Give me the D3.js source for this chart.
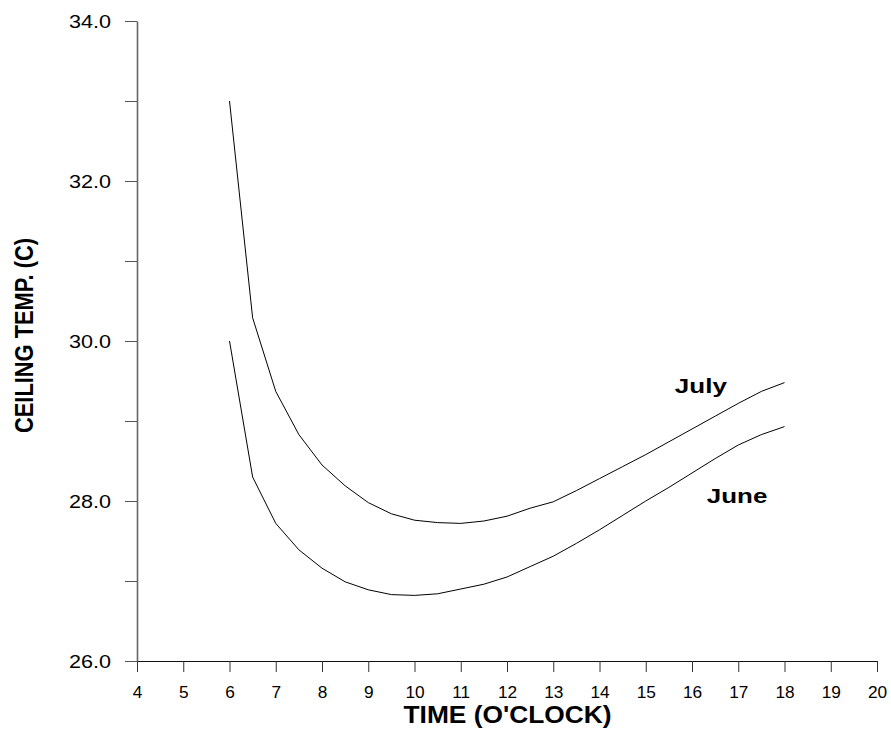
<!DOCTYPE html>
<html>
<head>
<meta charset="utf-8">
<script src="https://cdn.jsdelivr.net/npm/d3@7"></script>
<style>
    body { margin: 0; background: #fff; }
    text { font-family: "Liberation Sans", Arial, sans-serif; fill: #000; }
</style>
</head>
<body>
<div id="chart"></div>
<script>
// hours of the day (x) and ceiling temperatures (C)
const hours = [6, 6.5, 7, 7.5, 8, 8.5, 9, 9.5, 10, 10.5, 11, 11.5, 12,
    12.5, 13, 13.5, 14, 14.5, 15, 15.5, 16, 16.5, 17, 17.5, 18];
const july = [33.0, 30.29, 29.37, 28.83, 28.45, 28.19, 27.98, 27.84, 27.76, 27.73, 27.72, 27.75, 27.81,
    27.91, 27.99, 28.13, 28.28, 28.43, 28.58, 28.74, 28.90, 29.06, 29.22, 29.37, 29.48];
const june = [30.0, 28.30, 27.72, 27.39, 27.16, 26.99, 26.89, 26.83, 26.82, 26.84, 26.90, 26.96, 27.05,
    27.18, 27.31, 27.47, 27.64, 27.82, 28.00, 28.17, 28.35, 28.53, 28.70, 28.83, 28.93];
const xTicks = d3.range(4, 21);
const yTicks = d3.range(26, 35);
const seriesNames = ['July', 'June'];

const width = 891, height = 731;

const svg = d3.select('#chart').append('svg')
    .attr('width', width)
    .attr('height', height);

const x = d3.scaleLinear().domain([4, 20]).range([137, 877]);
const y = d3.scaleLinear().domain([26, 34]).range([661, 21]);

// x axis
const gx = svg.append('g')
    .attr('transform', 'translate(0,661)')
    .call(d3.axisBottom(x).tickValues(xTicks).tickSize(11).tickSizeOuter(0).tickFormat(d3.format('d')));
gx.select('.domain').attr('stroke', '#111');
gx.selectAll('.tick line').attr('stroke', '#333');
gx.selectAll('.tick text')
    .attr('y', 37.5).attr('dy', 0)
    .attr('transform', 'scale(1.08,1)')
    .style('font-size', '16px');

// y axis, labels only on even values
const gy = svg.append('g')
    .attr('transform', 'translate(137,0)')
    .call(d3.axisLeft(y).tickValues(yTicks).tickSize(12).tickSizeOuter(0)
        .tickFormat(function (d) { return d % 2 === 0 ? d3.format('.1f')(d) : ''; }));
gy.select('.domain').attr('stroke', '#666').attr('stroke-width', 1.6);
gy.selectAll('.tick line').attr('stroke', '#555');
gy.selectAll('.tick text')
    .attr('x', 0).attr('dy', '0.36em')
    .attr('transform', 'translate(-26,0) scale(1.2,1)')
    .style('font-size', '18px');

// curves
const line = d3.line()
    .x(function (d) { return x(d[0]); })
    .y(function (d) { return y(d[1]); });

[july, june].forEach(function (series) {
    svg.append('path')
        .datum(hours.map(function (h, i) { return [h, series[i]]; }))
        .attr('fill', 'none')
        .attr('stroke', '#000')
        .attr('stroke-width', 1)
        .attr('d', line);
});

// series labels
const labelSpots = [
    {name: seriesNames[0], hx: 15.63, ty: 29.35, len: 52},
    {name: seriesNames[1], hx: 16.32, ty: 27.98, len: 60.5}
];
svg.selectAll('.series-label')
    .data(labelSpots)
    .enter().append('text')
    .attr('class', 'series-label')
    .attr('x', function (d) { return x(d.hx); })
    .attr('y', function (d) { return y(d.ty); })
    .attr('textLength', function (d) { return d.len; })
    .attr('lengthAdjust', 'spacingAndGlyphs')
    .style('font-size', '21px')
    .style('font-weight', 'bold')
    .text(function (d) { return d.name; });

// axis titles
svg.append('text')
    .attr('x', 507.5)
    .attr('y', 723)
    .attr('text-anchor', 'middle')
    .attr('textLength', 208)
    .attr('lengthAdjust', 'spacingAndGlyphs')
    .style('font-size', '23px')
    .style('font-weight', 'bold')
    .text("TIME (O'CLOCK)");

svg.append('text')
    .attr('transform', 'translate(33,335.5) scale(1.15,1) rotate(-90)')
    .attr('text-anchor', 'middle')
    .attr('textLength', 195)
    .attr('lengthAdjust', 'spacingAndGlyphs')
    .style('font-size', '22px')
    .style('font-weight', 'bold')
    .text('CEILING TEMP. (C)');
</script>
</body>
</html>
